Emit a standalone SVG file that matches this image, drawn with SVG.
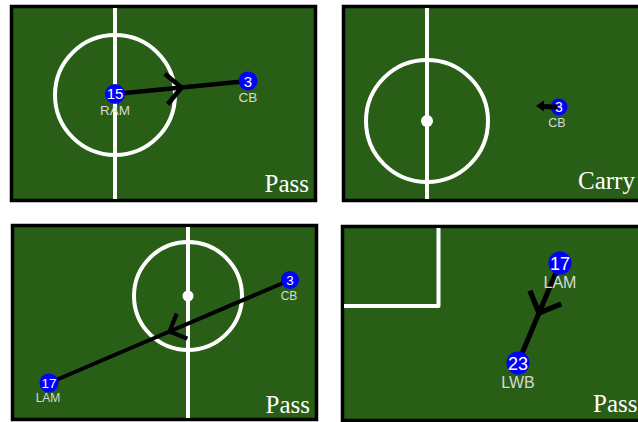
<svg xmlns="http://www.w3.org/2000/svg" width="638" height="422" viewBox="0 0 638 422">
<style>
.field{fill:#295e17;stroke:#000;stroke-width:3.5}
.mark{fill:none;stroke:#fff;stroke-width:4}
.dot{fill:#fff}
.conn{fill:none;stroke:#000;stroke-linecap:butt;marker-mid:url(#chev)}
.p{fill:#0000ff}
.num{fill:#fff;font-family:"Liberation Sans",Arial,sans-serif;text-anchor:middle}
.pos{fill:#d6dad3;font-family:"Liberation Sans",Arial,sans-serif;text-anchor:middle}
.title{fill:#fff;font-family:"Liberation Serif","Times New Roman",serif;font-size:25px}
</style>
<defs>
<marker id="chev" markerUnits="strokeWidth" orient="auto" refX="0" refY="0" markerWidth="10" markerHeight="10" viewBox="-5 -5 10 10" overflow="visible">
<path d="M-3.4,-3.4 L0,0 L-3.4,3.4" fill="none" stroke="#000" stroke-width="1.05" stroke-linejoin="miter"/>
</marker>
</defs>
<rect width="638" height="422" fill="#fff"/>

<!-- Panel 1 -->
<g id="panel1">
<rect class="field" x="11.5" y="6.5" width="304" height="194"/>
<line class="mark" x1="115" y1="8" x2="115" y2="199"/>
<circle class="mark" cx="115" cy="95" r="60"/>
<g id="p1-connectors">
<path class="conn" stroke-width="4.5" d="M115,94 L181.5,87.5 L248,81"/>
</g>
<g id="p1-node-15"><circle class="p" cx="115" cy="94" r="10"/><text class="num" x="115" y="99" font-size="15">15</text><text class="pos" x="115" y="115" font-size="13.5">RAM</text></g>
<g id="p1-node-3"><circle class="p" cx="248" cy="81" r="9.5"/><text class="num" x="248" y="86.5" font-size="15">3</text><text class="pos" x="248" y="102" font-size="13.5">CB</text></g>
<text class="title" x="309" y="192" text-anchor="end">Pass</text>
</g>

<!-- Panel 2 -->
<g id="panel2">
<rect class="field" x="343.5" y="6.5" width="400" height="194"/>
<line class="mark" x1="427" y1="8" x2="427" y2="199"/>
<circle class="mark" cx="427" cy="121" r="61"/>
<circle class="dot" cx="427" cy="121" r="6"/>
<g id="p2-node-3"><circle class="p" cx="559" cy="107" r="8.5"/><text class="num" x="559" y="112" font-size="14">3</text><text class="pos" x="557" y="127" font-size="12.5">CB</text></g>
<g id="p2-connectors">
<line x1="557" y1="107" x2="542" y2="106.5" stroke="#000" stroke-width="5"/>
<polygon points="536,106 544,100.5 544,111.5" fill="#000"/>
</g>
<text class="title" x="578" y="189">Carry</text>
</g>

<!-- Panel 3 -->
<g id="panel3">
<rect class="field" x="12.5" y="225.5" width="304" height="194"/>
<line class="mark" x1="188" y1="227" x2="188" y2="418"/>
<circle class="mark" cx="188" cy="296" r="54"/>
<circle class="dot" cx="188" cy="296" r="5.5"/>
<g id="p3-connectors">
<path class="conn" stroke-width="4" d="M290,280 L169.5,331.5 L49,383"/>
</g>
<g id="p3-node-3"><circle class="p" cx="290" cy="280" r="9"/><text class="num" x="290" y="285" font-size="13.5">3</text><text class="pos" x="289" y="299.5" font-size="12">CB</text></g>
<g id="p3-node-17"><circle class="p" cx="49" cy="383" r="9.5"/><text class="num" x="49" y="387.5" font-size="13.5">17</text><text class="pos" x="48" y="401.5" font-size="12">LAM</text></g>
<text class="title" x="310" y="413" text-anchor="end">Pass</text>
</g>

<!-- Panel 4 -->
<g id="panel4">
<rect class="field" x="342.5" y="226.5" width="400" height="194"/>
<path class="mark" stroke-width="4.5" stroke-linejoin="round" d="M438.5,228 L438.5,306 L344,306"/>
<g id="p4-connectors">
<path class="conn" stroke-width="5" d="M560,263 L539,313 L518,363"/>
</g>
<g id="p4-node-17"><circle class="p" cx="560" cy="263" r="11.5"/><text class="num" x="560" y="269.5" font-size="18">17</text><text class="pos" x="560" y="288" font-size="16">LAM</text></g>
<g id="p4-node-23"><circle class="p" cx="518" cy="363" r="11.5"/><text class="num" x="518" y="369.5" font-size="18">23</text><text class="pos" x="518" y="388" font-size="16">LWB</text></g>
<text class="title" x="593" y="412">Pass</text>
</g>
</svg>
